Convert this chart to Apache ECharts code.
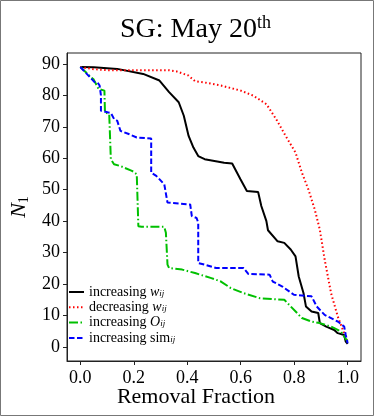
<!DOCTYPE html>
<html>
<head>
<meta charset="utf-8">
<script src="https://cdn.jsdelivr.net/npm/echarts@6/dist/echarts.min.js"></script>
<style>
html, body { margin: 0; padding: 0; background: #fff; }
#main { width: 374px; height: 416px; }
</style>
</head>
<body>
<div id="main"></div>
<script>
// removal fraction (x) and N1 (y) for each removal order
var incWX = [0, 0.05, 0.138, 0.235, 0.296, 0.332, 0.368, 0.387, 0.405, 0.423, 0.441, 0.465, 0.538, 0.568, 0.599, 0.623, 0.665, 0.677, 0.696, 0.702, 0.738, 0.763, 0.787, 0.805, 0.817, 0.835, 0.844, 0.865, 0.89, 0.896, 0.92, 0.95, 0.963, 0.987, 0.993, 1.0]
var incWY = [89, 88.9, 88.4, 86.8, 84.7, 81, 77.8, 73.5, 67.1, 63.4, 60.7, 59.7, 58.6, 58.3, 53.3, 49.6, 49.3, 44.8, 40, 37.1, 33.6, 33.1, 31, 28.8, 22.4, 17.1, 12.9, 11.3, 10.8, 7.6, 6.5, 5.4, 4.4, 3.8, 1.7, 1]

var decWX = [0, 0.05, 0.1, 0.33, 0.36, 0.404, 0.429, 0.47, 0.526, 0.6, 0.647, 0.696, 0.732, 0.768, 0.805, 0.829, 0.853, 0.877, 0.896, 0.914, 0.938, 0.963, 0.987, 1.0]
var decWY = [89, 88.3, 88, 88, 87.6, 86.3, 84.5, 84, 83.1, 81.5, 79.9, 77.2, 72.5, 67.1, 61.8, 55.4, 50.1, 43.7, 37.3, 27.8, 17.1, 9.7, 4.4, 1.5]

var incOX = [0, 0.05, 0.068, 0.09, 0.092, 0.108, 0.114, 0.126, 0.15, 0.193, 0.211, 0.217, 0.229, 0.314, 0.32, 0.326, 0.332, 0.381, 0.429, 0.49, 0.526, 0.563, 0.611, 0.672, 0.763, 0.787, 0.829, 0.865, 0.896, 0.938, 0.975, 1.0]
var incOY = [89, 85, 82, 81.5, 74.6, 74, 59.7, 58.1, 57.5, 56, 54.9, 38.4, 38.2, 38.2, 36.3, 26.2, 25.1, 24.6, 23.5, 21.9, 20.8, 18.7, 17.1, 15.5, 15, 12.9, 9.2, 8.1, 7.6, 6.5, 4.9, 1.7]

var incSX = [0, 0.053, 0.065, 0.072, 0.077, 0.077, 0.102, 0.114, 0.126, 0.138, 0.15, 0.181, 0.211, 0.265, 0.265, 0.284, 0.314, 0.326, 0.411, 0.417, 0.435, 0.441, 0.441, 0.465, 0.508, 0.611, 0.629, 0.708, 0.72, 0.756, 0.799, 0.865, 0.884, 0.914, 0.963, 0.987, 0.993, 1.0]
var incSY = [89, 84.2, 84, 83.1, 80, 75.1, 74.6, 74.4, 72.5, 71.9, 68.7, 67.7, 66.6, 66.3, 55.4, 54.4, 51.7, 45.9, 45.3, 41.6, 41, 39.5, 26.7, 26.2, 25.1, 25.1, 23.2, 23, 20.8, 19.2, 16.6, 16.1, 12.9, 10.2, 8.1, 6.5, 3.8, 1.2]

var xTicks = [0, 0.2, 0.4, 0.6, 0.8, 1.0]
var yTicks = [0, 10, 20, 30, 40, 50, 60, 70, 80, 90]

var serif = 'Liberation Serif'

function pairs (xs, ys) {
  return xs.map(function (x, i) { return [x, ys[i]] })
}

function line (name, xs, ys, color, type) {
  return {
    name: name,
    type: 'line',
    data: pairs(xs, ys),
    symbol: 'none',
    silent: true,
    lineStyle: { color: color, width: 2, type: type },
    itemStyle: { color: color }
  }
}

var myChart = echarts.init(document.getElementById('main'))
myChart.setOption({
  animation: false,
  grid: {
    left: 59,
    right: 13,
    top: 53,
    bottom: 55,
    show: true,
    borderColor: '#222',
    borderWidth: 1
  },
  graphic: [
    {
      type: 'rect',
      shape: { x: 0.5, y: 0.5, width: 373, height: 415 },
      style: { fill: 'none', stroke: '#777', lineWidth: 1 },
      silent: true
    },
    {
      type: 'text',
      x: 120,
      y: 16,
      style: { text: 'SG: May 20', fontFamily: serif, fontSize: 28, fill: '#000' }
    },
    {
      type: 'text',
      x: 257,
      y: 14,
      style: { text: 'th', fontFamily: serif, fontSize: 18, fill: '#000' }
    },
    {
      type: 'text',
      x: 196,
      y: 386,
      style: {
        text: 'Removal Fraction',
        align: 'center',
        fontFamily: serif,
        fontSize: 22,
        fill: '#000'
      }
    }
  ],
  legend: {
    orient: 'vertical',
    left: 63,
    top: 280,
    itemWidth: 15,
    itemHeight: 12,
    itemGap: 1.3,
    itemStyle: { opacity: 0 },
    data: ['incW', 'decW', 'incO', 'incS'],
    formatter: function (name) {
      return {
        incW: '{t|increasing }{i|w}{s|ij}',
        decW: '{t|decreasing }{i|w}{s|ij}',
        incO: '{t|increasing }{i|O}{s|ij}',
        incS: '{t|increasing sim}{s|ij}'
      }[name]
    },
    textStyle: {
      rich: {
        t: { fontFamily: serif, fontSize: 14, lineHeight: 12, color: '#000' },
        i: { fontFamily: serif, fontStyle: 'italic', fontSize: 14, lineHeight: 12, color: '#000' },
        s: { fontFamily: serif, fontStyle: 'italic', fontSize: 9, lineHeight: 8, verticalAlign: 'bottom', color: '#000' }
      }
    }
  },
  xAxis: {
    type: 'value',
    min: -0.05,
    max: 1.05,
    splitLine: { show: false },
    axisLine: { show: true, onZero: false, lineStyle: { color: '#222' } },
    axisTick: { show: true, length: 4, lineStyle: { color: '#222' }, customValues: xTicks },
    axisLabel: {
      customValues: xTicks,
      margin: 8,
      fontFamily: serif,
      fontSize: 18,
      color: '#000',
      formatter: function (v) { return v.toFixed(1) }
    }
  },
  yAxis: {
    type: 'value',
    min: -4.45,
    max: 93.45,
    name: '{i|N}{s|1}',
    nameLocation: 'middle',
    nameRotate: 90,
    nameGap: 36,
    nameTextStyle: {
      rich: {
        i: { fontFamily: serif, fontStyle: 'italic', fontSize: 22, lineHeight: 24, color: '#000' },
        s: { fontFamily: serif, fontSize: 14, lineHeight: 14, verticalAlign: 'bottom', color: '#000' }
      }
    },
    splitLine: { show: false },
    axisLine: { show: true, onZero: false, lineStyle: { color: '#222' } },
    axisTick: { show: true, length: 4, lineStyle: { color: '#222' }, customValues: yTicks },
    axisLabel: {
      customValues: yTicks,
      margin: 7,
      fontFamily: serif,
      fontSize: 18,
      color: '#000'
    }
  },
  series: [
    line('incW', incWX, incWY, '#000000', 'solid'),
    line('decW', decWX, decWY, '#ff0000', [1.5, 2.5]),
    line('incO', incOX, incOY, '#00c000', [9, 2.5, 1.5, 2.5]),
    line('incS', incSX, incSY, '#0000ff', [5.5, 2.5])
  ]
})
</script>
</body>
</html>
